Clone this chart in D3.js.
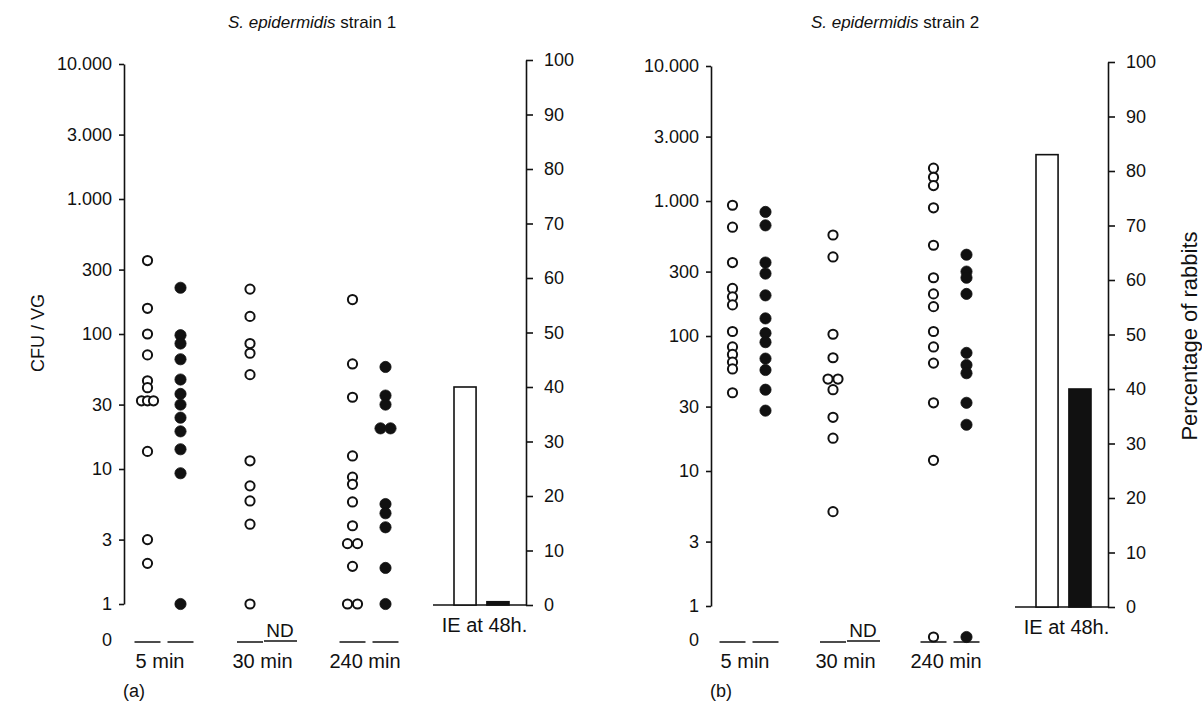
<!DOCTYPE html>
<html>
<head>
<meta charset="utf-8">
<script src="https://cdn.jsdelivr.net/npm/d3@7"></script>
<style>
  body { margin: 0; background: #fff; }
  svg text { font-family: "Liberation Sans", Arial, sans-serif; fill: #111; }
  .axis path, .axis line { stroke: #111; stroke-width: 1.6; }
  .axis text { font-size: 18px; }
</style>
</head>
<body>
<div id="chart"></div>
<script>
'use strict';

// time points, and IE bars
var groups = ['5 min', '30 min', '240 min'];
var bars = ['open', 'closed'];

// CFU / VG per rabbit, one list per time point (null = ND)
var strain1Open = [
  [350, 155, 100, 70, 45, 40, 32, 32, 32, 13.5, 3, 2],
  [215, 135, 85, 72, 50, 11.5, 7.5, 5.8, 3.9, 1],
  [180, 60, 34, 12.5, 8.7, 7.7, 5.7, 3.8, 2.8, 2.8, 1.9, 1, 1]
];
var strain1Closed = [
  [220, 98, 85, 65, 46, 36, 30, 24, 19, 14, 9.3, 1],
  null,
  [57, 35, 30, 20, 20, 5.5, 4.7, 3.7, 1.85, 1]
];
var strain2Open = [
  [930, 640, 350, 225, 195, 170, 108, 83, 73, 64, 57, 38],
  [560, 385, 103, 69, 48, 48, 40, 25, 17.5, 5],
  [1750, 1500, 1300, 890, 470, 270, 205, 165, 108, 83, 63, 32, 12, 0]
];
var strain2Closed = [
  [830, 660, 350, 290, 200, 135, 105, 90, 68, 56, 40, 28],
  null,
  [400, 300, 270, 205, 75, 61, 53, 32, 22, 0]
];

// percentage of rabbits with IE at 48h
var ieStrain1 = [40, 0.6];
var ieStrain2 = [83, 40];

var logTicks = [1, 3, 10, 30, 100, 300, 1000, 3000, 10000];
var logTickLabels = ['1', '3', '10', '30', '100', '300', '1.000', '3.000', '10.000'];
var pctTicks = [0, 10, 20, 30, 40, 50, 60, 70, 80, 90, 100];

var width = 1202,
    height = 707,
    zeroY = 642;

var svg = d3.select('#chart').append('svg')
    .attr('width', width)
    .attr('height', height);

var panels = [
  {title: 'strain 1', tag: '(a)', open: strain1Open, closed: strain1Closed, ie: ieStrain1,
   leftX: 124, rightX: 526, logRange: [604, 64], pctRange: [605, 60], groupRange: [164, 369], titleX: 312},
  {title: 'strain 2', tag: '(b)', open: strain2Open, closed: strain2Closed, ie: ieStrain2,
   leftX: 711, rightX: 1108, logRange: [606, 66], pctRange: [607, 62], groupRange: [749, 950], titleX: 895}
];

panels.forEach(function(p) {
  var g = svg.append('g');

  var y = d3.scaleLog().domain([1, 10000]).range(p.logRange);
  var yPct = d3.scaleLinear().domain([0, 100]).range(p.pctRange);
  var x = d3.scalePoint().domain(groups).range(p.groupRange);
  var xBar = d3.scaleBand().domain(bars)
      .range([p.rightX - 72, p.rightX - 17])
      .paddingInner(0.33).paddingOuter(0);

  // title
  var t = g.append('text')
      .attr('x', p.titleX)
      .attr('y', 28)
      .attr('text-anchor', 'middle')
      .style('font-size', '17px');
  t.append('tspan').style('font-style', 'italic').text('S. epidermidis');
  t.append('tspan').text(' ' + p.title);

  // left log axis
  g.append('g')
      .attr('class', 'axis')
      .attr('transform', 'translate(' + p.leftX + ',0)')
      .call(d3.axisLeft(y)
        .tickValues(logTicks)
        .tickFormat(function(d, i) { return logTickLabels[i]; })
        .tickSize(5)
        .tickSizeOuter(0)
        .tickPadding(7));

  g.append('text')
      .attr('x', p.leftX - 12)
      .attr('y', zeroY)
      .attr('dy', '0.2em')
      .attr('text-anchor', 'end')
      .style('font-size', '18px')
      .text('0');

  // right percentage axis
  g.append('g')
      .attr('class', 'axis')
      .attr('transform', 'translate(' + p.rightX + ',0)')
      .call(d3.axisRight(yPct)
        .tickValues(pctTicks)
        .tickSize(7)
        .tickSizeOuter(0)
        .tickPadding(11));

  // IE bars
  g.append('line')
      .attr('x1', p.rightX - 93).attr('x2', p.rightX)
      .attr('y1', yPct(0)).attr('y2', yPct(0))
      .attr('stroke', '#111').attr('stroke-width', 1.6);

  g.selectAll('rect.ie')
      .data(p.ie)
    .enter().append('rect')
      .attr('class', 'ie')
      .attr('x', function(d, i) { return xBar(bars[i]); })
      .attr('width', xBar.bandwidth())
      .attr('y', function(d) { return yPct(d); })
      .attr('height', function(d) { return yPct(0) - yPct(d); })
      .attr('fill', function(d, i) { return i === 0 ? '#fff' : '#111'; })
      .attr('stroke', '#111')
      .attr('stroke-width', 1.6);

  g.append('text')
      .attr('x', xBar.range()[0] + (xBar.range()[1] - xBar.range()[0]) / 2 + 3)
      .attr('y', yPct(0) + 27)
      .attr('text-anchor', 'middle')
      .style('font-size', '20px')
      .text('IE at 48h.');

  // points per column
  var cols = [];
  groups.forEach(function(grp, gi) {
    cols.push({grp: grp, closed: false, values: p.open[gi]});
    cols.push({grp: grp, closed: true, values: p.closed[gi]});
  });

  cols.forEach(function(c) {
    var cx = x(c.grp) + (c.closed ? 16.5 : -16.5);

    if (c.values === null) {
      g.append('text')
          .attr('x', cx - 3)
          .attr('y', zeroY - 5)
          .attr('text-anchor', 'middle')
          .style('font-size', '19px')
          .text('ND');
      g.append('line')
          .attr('x1', cx - 19).attr('x2', cx + 14)
          .attr('y1', zeroY - 1).attr('y2', zeroY - 1)
          .attr('stroke', '#111').attr('stroke-width', 1.5);
      return;
    }

    g.append('line')
        .attr('x1', cx - 13).attr('x2', cx + 13)
        .attr('y1', zeroY).attr('y2', zeroY)
        .attr('stroke', '#111').attr('stroke-width', 1.5);

    // spread equal values side by side
    var counts = d3.rollup(c.values, function(v) { return v.length; }, function(d) { return d; });
    var seen = new Map();
    var pts = c.values.map(function(v) {
      var n = counts.get(v), k = seen.get(v) || 0;
      seen.set(v, k + 1);
      var step = n > 2 ? 6 : 10;
      return {v: v, dx: (k - (n - 1) / 2) * step};
    });

    g.selectAll(null)
        .data(pts)
      .enter().append('circle')
        .attr('cx', function(d) { return cx + d.dx; })
        .attr('cy', function(d) { return d.v === 0 ? zeroY - 5 : y(d.v); })
        .attr('r', c.closed ? 5.6 : 4.6)
        .attr('fill', c.closed ? '#111' : '#fff')
        .attr('stroke', '#111')
        .attr('stroke-width', c.closed ? 0.8 : 2);
  });

  g.selectAll('text.grp')
      .data(groups)
    .enter().append('text')
      .attr('class', 'grp')
      .attr('x', function(d) { return x(d) - 4; })
      .attr('y', zeroY + 26)
      .attr('text-anchor', 'middle')
      .style('font-size', '20px')
      .text(function(d) { return d; });

  g.append('text')
      .attr('x', p.leftX - 1)
      .attr('y', 697)
      .style('font-size', '18px')
      .text(p.tag);
});

svg.append('text')
    .attr('transform', 'translate(44,333) rotate(-90)')
    .attr('text-anchor', 'middle')
    .style('font-size', '18px')
    .text('CFU / VG');

svg.append('text')
    .attr('transform', 'translate(1197,336) rotate(-90)')
    .attr('text-anchor', 'middle')
    .style('font-size', '22px')
    .text('Percentage of rabbits');
</script>
</body>
</html>
